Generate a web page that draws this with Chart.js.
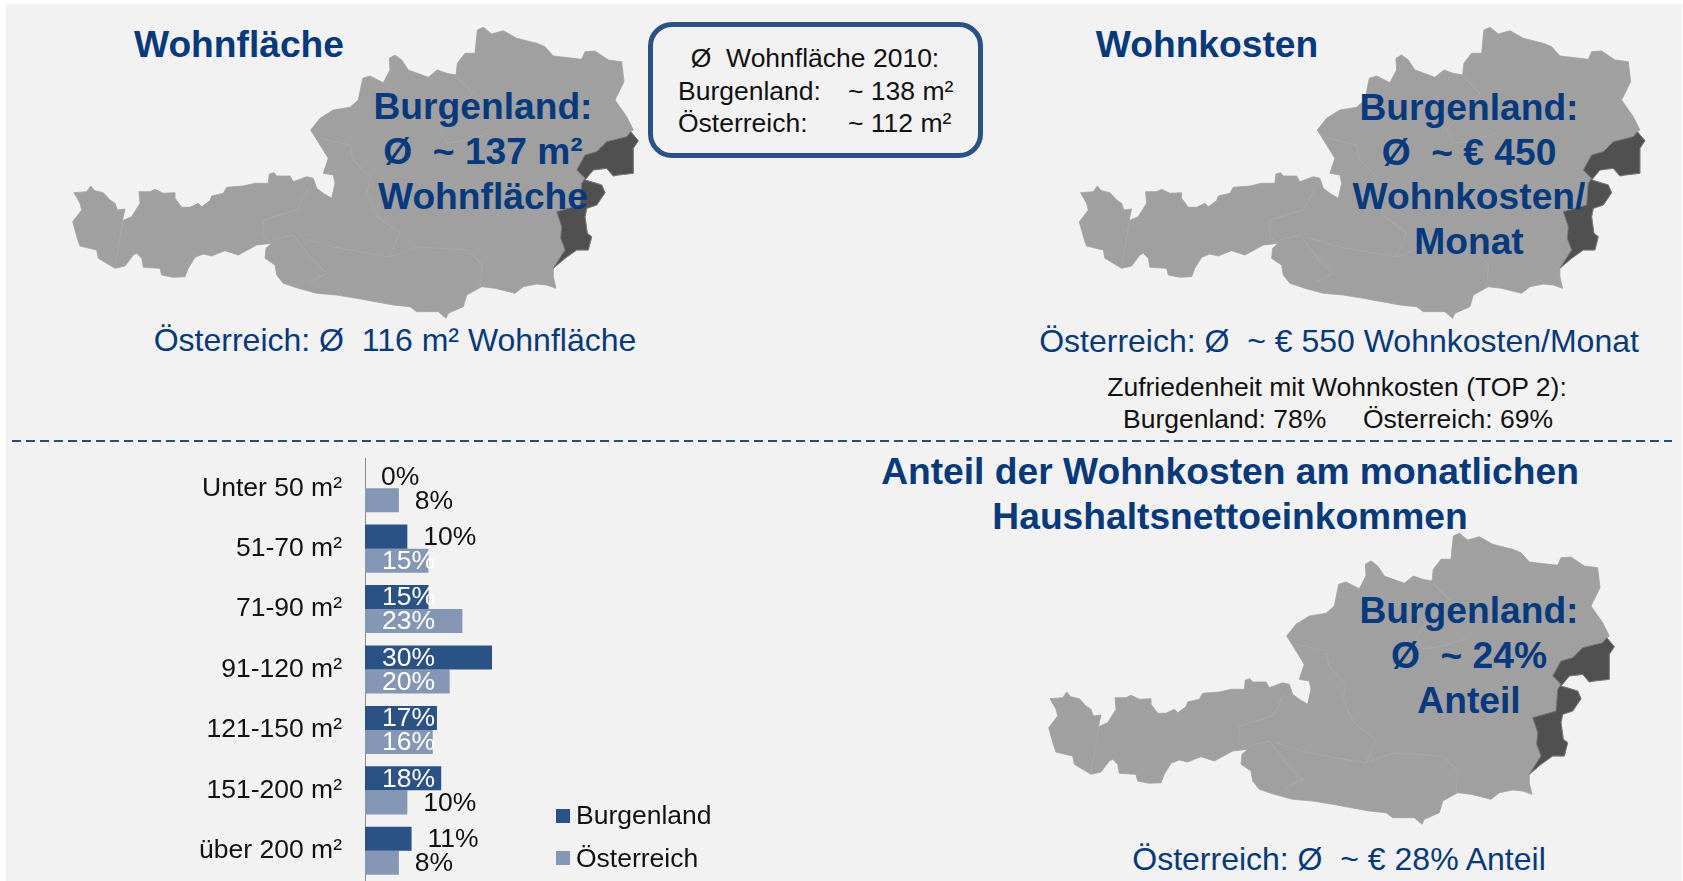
<!DOCTYPE html>
<html>
<head>
<meta charset="utf-8">
<title>Wohnfläche und Wohnkosten</title>
<script src="https://cdn.jsdelivr.net/npm/chart.js@4"></script>
<style>
    html, body { margin: 0; padding: 0; background: #fff; width: 1683px; height: 881px; overflow: hidden; font-family: "Liberation Sans", Arial, sans-serif; }
    #panel { position: absolute; left: 6px; top: 4px; right: 1px; bottom: 0; background: #f2f2f2; }
    #maps { position: absolute; left: 0; top: 0; filter: blur(0.6px); }
    #sizeChart { position: absolute; left: 0; top: 458px; }
    .t { position: absolute; white-space: pre; line-height: 1; transform: translateY(-50%); }
    .c { transform: translate(-50%, -50%); }
    .head { font-weight: bold; font-size: 37.2px; color: #063a7c; }
    .sub { font-size: 32px; color: #063a7c; }
    .note { font-size: 26.5px; color: #111; }
    #infoBox { position: absolute; left: 648px; top: 22px; width: 325px; height: 126px; border: 5px solid #2a5285; border-radius: 24px; }
    #divider { position: absolute; left: 12px; top: 440px; width: 1660px; height: 2px; background: repeating-linear-gradient(90deg, #1f4e79 0 9px, transparent 9px 14px); }
    .swatch { position: absolute; left: 556px; width: 14px; height: 14px; }
</style>
</head>
<body>
<div id="panel"></div>
<svg id="maps" width="1683" height="881"></svg>
<div id="infoBox"></div>
<div id="divider"></div>
<canvas id="sizeChart" width="760" height="423"></canvas>
<div id="labels"></div>
<script>
// Chart data
const categories = ['Unter 50 m²', '51-70 m²', '71-90 m²', '91-120 m²', '121-150 m²', '151-200 m²', 'über 200 m²'];
const burgenland = [0, 10, 15, 30, 17, 18, 11];
const oesterreich = [8, 15, 23, 20, 16, 10, 8];
const seriesNames = ['Burgenland', 'Österreich'];
const seriesColors = ['#2a5285', '#8497b5'];

// Map outline (first map, page pixels)
const austriaOutline = [74,192.7,86.7,191.7,90.7,186,94.7,190.7,103.3,192.7,110,200,115,203.3,117.3,210,125,209,122.3,220.7,131.7,216.7,140,203.3,139,191.7,150,191.7,155,189.3,163.3,193.3,175,192.7,175,198.3,181.7,207.3,190,207.3,198.3,203.3,201.7,206.7,210,200.7,211.7,196,223.3,193.3,226.7,187.3,243.3,186,255,183.3,268.3,183.3,269.3,174,274,172.7,276.7,176,290,176,293.3,181.7,306.7,176.7,313.3,178.3,316.7,188.3,323.3,193.3,331.7,198.3,335,183.3,333.3,175,323.3,173.3,328.3,158.3,320,145,310.7,130,320,118.3,333.3,110,350,107.3,358.3,100,362.7,78.3,370,76,383.3,82.7,390,70,389.3,58.3,395,55,401.7,60,408.3,70,428.3,77.3,437.3,70,446.7,73.3,456,75,457.3,63.3,465,53.3,475,53.3,477.3,30,483.3,27.3,491.7,34,503.3,30.7,516.7,38.3,536.7,43.3,545,46.7,553.3,56,581.7,59.3,585,51.7,595,51,608.3,60,621.7,61.7,624,81.7,615,100,626.7,116.7,633.3,130,630.7,131.7,638.3,140.7,633.3,148.3,633.3,173.3,618.3,175,613.3,176,606.7,168.3,593.3,170,585,180,601.7,185,605,192.7,596.7,205,586.7,208.3,585,216.7,587.3,233.3,591.7,236.7,588.3,250,576.7,250,565,258.3,553.3,268.3,553.3,276.7,556,288.3,546.7,285,536.7,284,523.3,286.7,515,293.3,495,288.3,481.7,286.7,466.7,295,463.3,306.7,448.3,313.3,446,318.3,438.3,311.7,416.7,311.7,410,306.7,393.3,305,356.7,298.3,336.7,295,316.7,293.3,298.3,288.3,283.3,283.3,276.7,275,275,265,265,258.3,266,248.3,271.7,243.3,256.7,245,238.3,255,225,250.7,218.3,253.3,211.7,256,203.3,254,195,257.3,188.3,268.3,185,276.7,173.3,277.3,161.7,275,160,268.3,143.3,267.3,141.7,258.3,136.7,253.3,133.3,255,125,266,115,268.3,98.3,258.3,96.7,250,80,246,77.3,238.3,72.7,221.7,81.7,210,80,203.3];
const burgenlandOutline = [630.7,131.7,638.3,140.7,633.3,148.3,633.3,173.3,618.3,175,613.3,176,606.7,168.3,593.3,170,585,180,601.7,185,605,192.7,596.7,205,586.7,208.3,585,216.7,587.3,233.3,591.7,236.7,588.3,250,576.7,250,565,258.3,553.3,268.3,565,250,560.7,238.3,561.7,226.7,556.7,211.7,580,205,581.7,183.3,585,178.3,576.7,170,585,155,596.7,151.7,606.7,141.7,626.7,136.7];
const innerBorders = [
    [122.7,221.7,115,266.7],
    [308.3,188.3,296.7,210,263.3,220,263.3,236.7,271.7,243.3],
    [273,240,293,235,313,260,326.7,273.3,310,281.7],
    [320,138,350,145,353,160,370,177,367,193,378,217,400,233,390,257,417,247,467,250,482,265,480,287],
    [300,237,333,247,390,257],
    [440,130,447,143,467,140,490,133],
    [457,77,473,93,440,130]
];
const mapOffsets = [[0, 0], [1006.6, 0], [976, 506]];

// Texts around the chart: [text, x, y, class, centered]
const texts = [
    ['Wohnfläche', 239, 45, 'head', true],
    ['Burgenland:', 483, 107, 'head', true],
    ['Ø  ~ 137 m²', 483, 152, 'head', true],
    ['Wohnfläche', 483, 197, 'head', true],
    ['Österreich: Ø  116 m² Wohnfläche', 395, 340, 'sub', true],
    ['Ø  Wohnfläche 2010:', 815, 58, 'note', true],
    ['Burgenland:', 678, 91, 'note', false],
    ['~ 138 m²', 848, 91, 'note', false],
    ['Österreich:', 678, 123, 'note', false],
    ['~ 112 m²', 848, 123, 'note', false],
    ['Wohnkosten', 1207, 45, 'head', true],
    ['Burgenland:', 1469, 108, 'head', true],
    ['Ø  ~ € 450', 1469, 153, 'head', true],
    ['Wohnkosten/', 1469, 197, 'head', true],
    ['Monat', 1469, 242, 'head', true],
    ['Österreich: Ø  ~ € 550 Wohnkosten/Monat', 1339, 341, 'sub', true],
    ['Zufriedenheit mit Wohnkosten (TOP 2):', 1337, 387, 'note', true],
    ['Burgenland: 78%', 1123, 419, 'note', false],
    ['Österreich: 69%', 1363, 419, 'note', false],
    ['Anteil der Wohnkosten am monatlichen', 1230, 472, 'head', true],
    ['Haushaltsnettoeinkommen', 1230, 517, 'head', true],
    ['Burgenland:', 1469, 611, 'head', true],
    ['Ø  ~ 24%', 1469, 656, 'head', true],
    ['Anteil', 1469, 701, 'head', true],
    ['Österreich: Ø  ~ € 28% Anteil', 1339, 859, 'sub', true],
    [seriesNames[0], 576, 815, 'note', false],
    [seriesNames[1], 576, 858, 'note', false]
];

function toPath(pts, close) {
    let d = '';
    for (let i = 0; i < pts.length; i += 2) {
        d += (i === 0 ? 'M' : 'L') + pts[i] + ' ' + pts[i + 1] + ' ';
    }
    return close ? d + 'Z' : d;
}

// Maps
const mapSvg = document.getElementById('maps');
let svgContent = '';
mapOffsets.forEach(o => {
    svgContent += `<g transform="translate(${o[0]} ${o[1]})">`;
    svgContent += `<path d="${toPath(austriaOutline, true)}" fill="#a0a0a0" stroke="#a0a0a0" stroke-width="0.8" stroke-linejoin="round"/>`;
    innerBorders.forEach(b => {
        svgContent += `<path d="${toPath(b, false)}" fill="none" stroke="#a8a8a8" stroke-width="1.2"/>`;
    });
    svgContent += `<path d="${toPath(burgenlandOutline, true)}" fill="#505050" stroke="#787878" stroke-width="1" stroke-linejoin="round"/>`;
    svgContent += '</g>';
});
mapSvg.innerHTML = svgContent;

// Labels
const labelHolder = document.getElementById('labels');
texts.forEach(t => {
    const el = document.createElement('div');
    el.className = 't ' + t[3] + (t[4] ? ' c' : '');
    el.textContent = t[0];
    el.style.left = t[1] + 'px';
    el.style.top = t[2] + 'px';
    labelHolder.appendChild(el);
});

// Legend swatches
[809, 851].forEach((y, i) => {
    const sw = document.createElement('div');
    sw.className = 'swatch';
    sw.style.top = y + 'px';
    sw.style.background = seriesColors[i];
    labelHolder.appendChild(sw);
});

// Value labels next to / inside the bars
const valueLabels = {
    id: 'valueLabels',
    afterDatasetsDraw(chart) {
        const { ctx, scales: { x } } = chart;
        ctx.save();
        ctx.font = '26.5px "Liberation Sans", Arial, sans-serif';
        ctx.textAlign = 'left';
        ctx.textBaseline = 'middle';
        chart.data.datasets.forEach((ds, di) => {
            chart.getDatasetMeta(di).data.forEach((bar, i) => {
                const v = ds.data[i];
                const inside = v >= 15;
                ctx.fillStyle = inside ? '#fff' : '#111';
                const px = inside ? x.getPixelForValue(0) + 17 : x.getPixelForValue(v) + 16;
                ctx.fillText(v + '%', px, bar.y + 1);
            });
        });
        ctx.restore();
    }
};

new Chart(document.getElementById('sizeChart').getContext('2d'), {
    type: 'bar',
    data: {
        labels: categories,
        datasets: [
            { label: seriesNames[0], data: burgenland, backgroundColor: seriesColors[0] },
            { label: seriesNames[1], data: oesterreich, backgroundColor: seriesColors[1] }
        ]
    },
    options: {
        indexAxis: 'y',
        responsive: false,
        animation: false,
        categoryPercentage: 0.796,
        barPercentage: 1,
        layout: { padding: 0 },
        plugins: { legend: { display: false }, tooltip: { enabled: false } },
        scales: {
            x: { display: false, min: 0, max: 93.3 },
            y: {
                // tick padding would otherwise also shrink the plot height
                afterFit: (scale) => { scale.width = 365; scale.paddingTop = 0; scale.paddingBottom = 0; },
                grid: { display: false, drawTicks: false },
                border: { color: '#8c8c8c', width: 1 },
                ticks: {
                    color: '#111',
                    padding: 23,
                    font: { family: '"Liberation Sans", Arial, sans-serif', size: 26.5 }
                }
            }
        }
    },
    plugins: [valueLabels]
});
</script>
</body>
</html>
